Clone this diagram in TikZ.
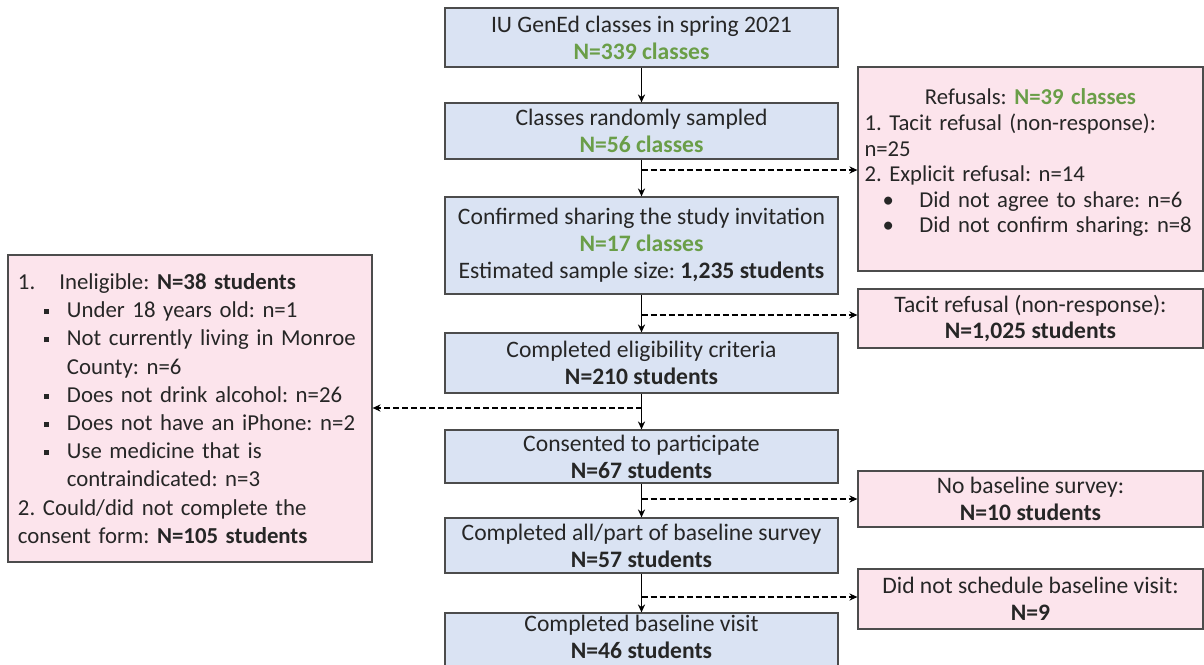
\documentclass[tikz,border=0pt]{standalone}
\usepackage{fontspec}
\setmainfont{Carlito}
\usetikzlibrary{arrows.meta,positioning,calc}
\definecolor{boxblue}{RGB}{218,227,243}
\definecolor{boxpink}{RGB}{252,228,236}
\definecolor{numgreen}{RGB}{106,158,72}
\newcommand{\grn}[1]{\textcolor{numgreen}{\textbf{#1}}}
\newcommand{\sqb}{\rule[1.8pt]{2.6pt}{2.6pt}}
\newcommand{\sqitem}{\makebox[24.5pt][l]{\hspace{13pt}\sqb}}
\newcommand{\sqcont}{\hspace*{24.5pt}}
\newcommand{\dotitem}{\makebox[27.5pt][l]{\hspace{9pt}\textbullet}}
\frenchspacing
\hyphenpenalty=10000
\exhyphenpenalty=10000

\begin{document}
\begin{tikzpicture}[x=0.5pt, y=-0.5pt,
    every node/.style={font=\fontsize{11.8}{13.4}\selectfont, text=black!85},
    stage/.style={draw=black!70, fill=boxblue, line width=0.6pt, minimum width=196.5pt, align=center, inner sep=0pt},
    excl/.style={draw=black!70, fill=boxpink, line width=0.6pt, align=center, inner sep=0pt},
    flow/.style={-{Stealth[length=4pt,width=3.6pt]}, line width=0.75pt},
    side/.style={-{Stealth[length=4pt,width=3.6pt]}, line width=0.7pt, dash pattern=on 3pt off 1.5pt}
]
\useasboundingbox (0,0) rectangle (1204,664);

% main column
\node[stage, minimum height=29.5pt] (b1) at (641.5,37.5) {IU GenEd classes in spring 2021\\\grn{N=339 classes}};
\node[stage, minimum height=28pt] (b2) at (641.5,131) {Classes randomly sampled\\\grn{N=56 classes}};
\node[stage, minimum height=48.5pt] (b3) at (641.5,245.5) {Confirmed sharing the study invitation\\\grn{N=17 classes}\\Estimated sample size: \textbf{1,235 students}};
\node[stage, minimum height=30pt] (b4) at (641.5,363) {Completed eligibility criteria\\\textbf{N=210 students}};
\node[stage, minimum height=26.5pt] (b5) at (641.5,456.5) {Consented to participate\\\textbf{N=67 students}};
\node[stage, minimum height=27.5pt] (b6) at (641.5,545.5) {Completed all/part of baseline survey\\\textbf{N=57 students}};
\node[stage, minimum height=27.5pt, text depth=3.5pt] (b7) at (641.5,640.5) {Completed baseline visit\\\textbf{N=46 students}};

% exclusions
\node[excl, minimum width=172.5pt, minimum height=102pt, text width=166pt, align=left, font=\fontsize{11.35}{12.8}\selectfont] (r1) at (1030.5,169) {%
\makebox[\hsize]{Refusals: \grn{N=39 classes}}\\
1. Tacit refusal (non-response):\\
n=25\\
2. Explicit refusal: n=14\\
\dotitem Did not agree to share: n=6\\
\dotitem Did not confirm sharing: n=8\\[-4.8pt]
\mbox{}};
\node[excl, minimum width=172.5pt, minimum height=29.5pt] (r2) at (1030.5,318.5) {Tacit refusal (non-response):\\\textbf{N=1,025 students}};
\node[excl, minimum width=172.5pt, minimum height=28pt] (r3) at (1030.5,499) {No baseline survey:\\\textbf{N=10 students}};
\node[excl, minimum width=172.5pt, minimum height=30pt] (r4) at (1030.5,599) {Did not schedule baseline visit:\\\textbf{N=9}};
\node[excl, minimum width=182pt, minimum height=153.5pt, text width=172pt, align=left, font=\fontsize{11.4}{14.1}\selectfont] (inel) at (190,408.5) {%
1.\hspace{12pt}Ineligible: \textbf{N=38 students}\\
\sqitem Under 18 years old: n=1\\
\sqitem Not currently living in Monroe\\
\sqcont County: n=6\\
\sqitem Does not drink alcohol: n=26\\
\sqitem Does not have an iPhone: n=2\\
\sqitem Use medicine that is\\
\sqcont contraindicated: n=3\\
2. Could/did not complete the\\
consent form: \textbf{N=105 students}};

% branch points
\coordinate (j1) at (641.5,170);
\coordinate (j2) at (641.5,315);
\coordinate (j3) at (641.5,408);
\coordinate (j4) at (641.5,499);
\coordinate (j5) at (641.5,597);

\draw
(b1) edge[flow] (b2)
(b2) edge[flow] (b3)
(b3) edge[flow] (b4)
(b4) edge[flow] (b5)
(b5) edge[flow] (b6)
(b6) edge[flow] (b7);
\draw[side] (j1) -- (j1 -| r1.west);
\draw[side] (j2) -- (j2 -| r2.west);
\draw[side] (j3) -- (j3 -| inel.east);
\draw[side] (j4) -- (j4 -| r3.west);
\draw[side] (j5) -- (j5 -| r4.west);
\end{tikzpicture}
\end{document}
